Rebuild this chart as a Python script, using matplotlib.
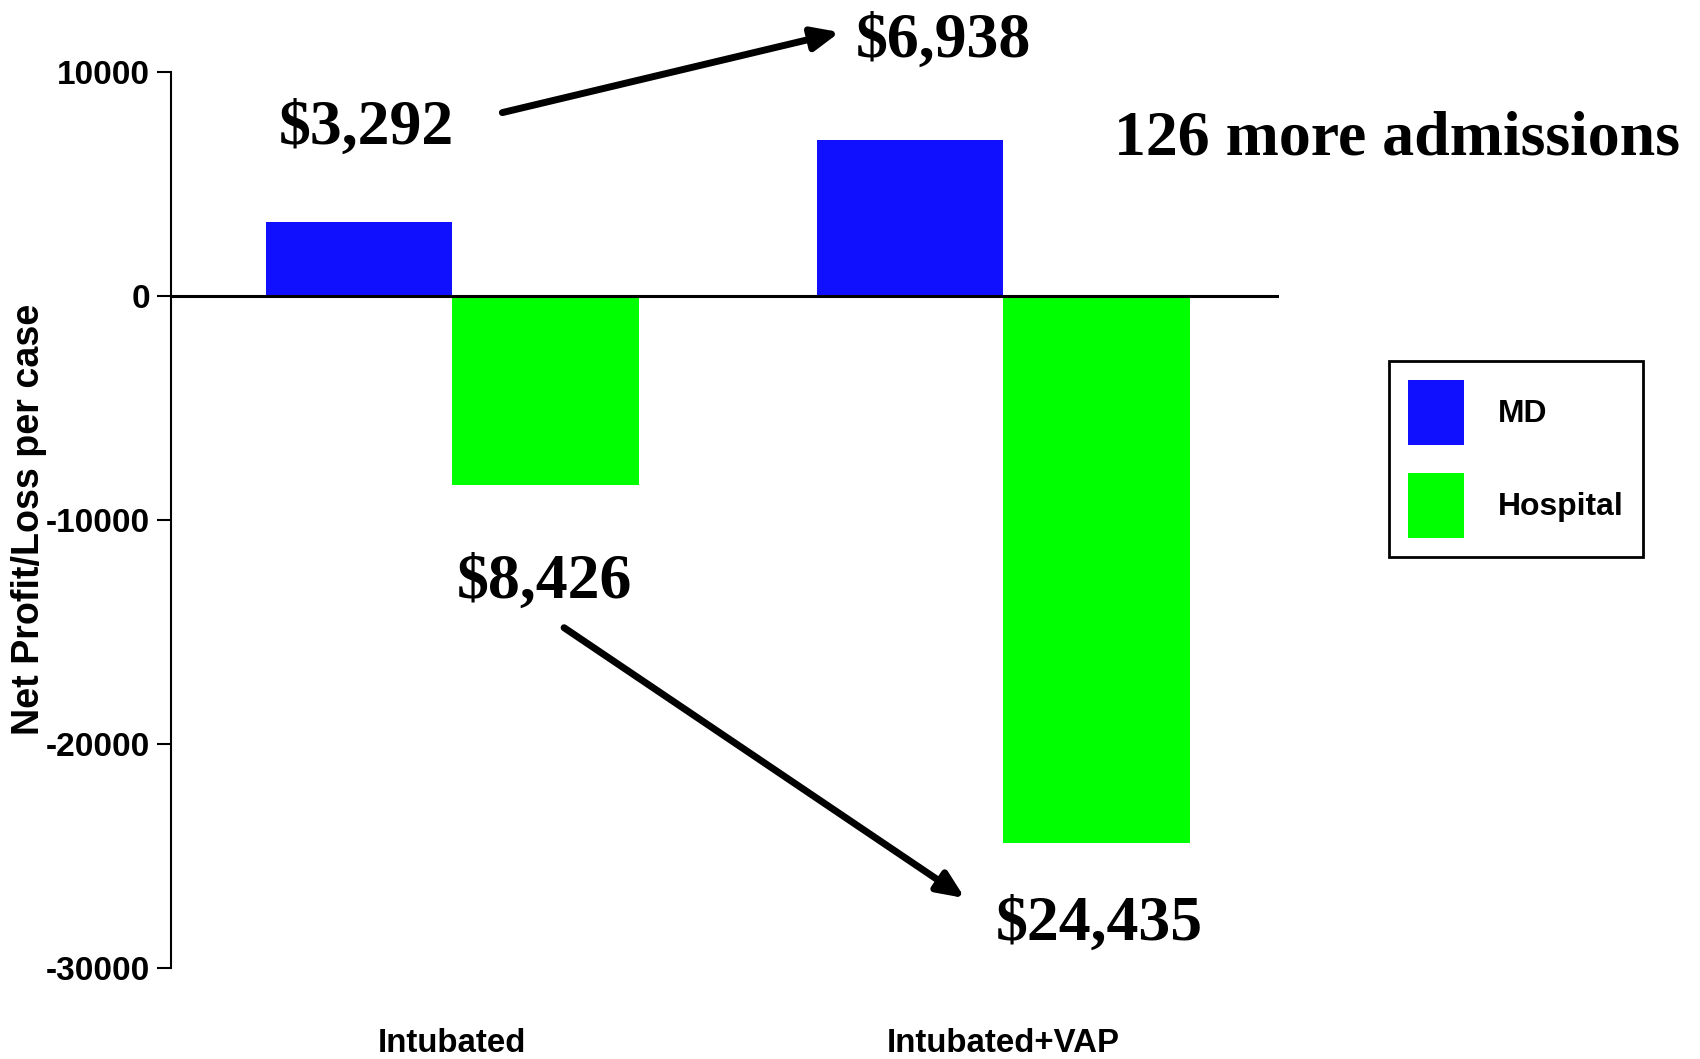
import matplotlib.pyplot as plt
import numpy as np
from matplotlib import font_manager

categories = ['Intubated', 'Intubated+VAP']
md_values = [3292, 6938]
hospital_values = [-8426, -24435]
y_ticks = [10000, 0, -10000, -20000, -30000]

# narrow sans for the axis / legend text if available
names = {f.name for f in font_manager.fontManager.ttflist}
narrow = 'Liberation Sans Narrow' in names
sans = ['Liberation Sans Narrow', 'Liberation Sans'] if narrow else ['Liberation Sans']
scale = 1.0 if narrow else 0.82
serif = ['Liberation Serif', 'DejaVu Serif']

fig = plt.figure(figsize=(17, 10.59), dpi=100)
ax = fig.add_axes([0.1006, 0.0859, 0.6518, 0.8465])

x = np.arange(len(categories))
w = 0.338
ax.bar(x - w / 2, md_values, w, color='#1010FF', label='MD')
ax.bar(x + w / 2, hospital_values, w, color='#00FF00', label='Hospital')
ax.axhline(0, color='black', lw=2.2)

ax.set_xlim(-0.51, 1.5)
ax.set_ylim(-30000, 10000)
ax.set_yticks(y_ticks)
ax.set_yticklabels([str(t) for t in y_ticks], fontfamily='Liberation Sans',
                   fontweight='bold', fontsize=24)
ax.tick_params(axis='y', direction='out', length=10, width=1.5, pad=5)
ax.set_xticks(x)
ax.set_xticklabels(categories, fontfamily=sans, fontweight='bold',
                   fontsize=29 * scale)
ax.tick_params(axis='x', length=0, pad=43)
for s in ['top', 'right', 'bottom']:
    ax.spines[s].set_visible(False)
ax.spines['left'].set_linewidth(1.5)

ax.set_ylabel('Net Profit/Loss per case', fontfamily=sans, fontweight='bold',
              fontsize=33 * scale)
ax.yaxis.set_label_coords(-0.112, 0.5)

# dollar annotations
big = dict(fontfamily=serif, fontweight='bold', fontsize=46,
           ha='center', va='center', clip_on=False)
ax.text(-0.156, 7450, f'${md_values[0]:,}', **big)
ax.text(0.891, 11330, f'${md_values[1]:,}', **big)
ax.text(0.167, -12800, f'${-hospital_values[0]:,}', **big)
ax.text(1.174, -28070, f'${-hospital_values[1]:,}', **big)
ax.text(1.714, 6980, '126 more admissions', **big)

arrow = dict(arrowstyle='-|>,head_length=1.6,head_width=0.7', color='black',
             lw=5, shrinkA=0, shrinkB=0)
ax.annotate('', xy=(0.703, 11760), xytext=(0.091, 8170),
            arrowprops=arrow, annotation_clip=False)
ax.annotate('', xy=(0.930, -26880), xytext=(0.203, -14815),
            arrowprops=arrow, annotation_clip=False)

leg = ax.legend(loc='upper left', bbox_to_anchor=(1389 / 1700, 1 - 361 / 1059),
                bbox_transform=fig.transFigure, borderaxespad=0,
                prop={'family': sans, 'weight': 'bold', 'size': 28 * scale},
                handlelength=1.44 / scale, handleheight=2.76,
                labelspacing=0.72 / scale, handletextpad=1.05,
                borderpad=0.6, fancybox=False, framealpha=1,
                edgecolor='black')
leg.get_frame().set_linewidth(2)

fig.savefig('out.png', dpi=100)
